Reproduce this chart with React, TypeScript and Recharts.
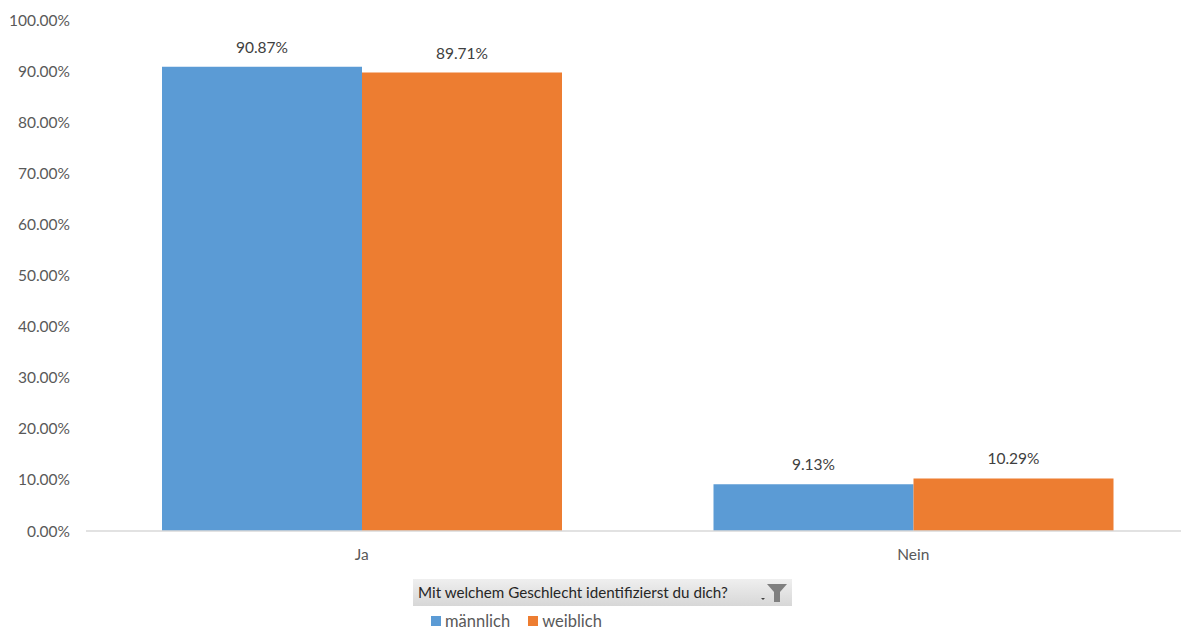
import React from 'react';
import { BarChart, Bar, XAxis, YAxis, LabelList, Legend } from 'recharts';

const categories = ['Ja', 'Nein'];
const maennlich = [90.87, 9.13];
const weiblich = [89.71, 10.29];
const yTicks = [0, 10, 20, 30, 40, 50, 60, 70, 80, 90, 100];

const legendTitle = 'Mit welchem Geschlecht identifizierst du dich?';

const BLUE = '#5B9BD5';
const ORANGE = '#ED7D31';
const FONT = 'Lato, "Noto Sans", sans-serif';

const data = categories.map((name, i) => ({
  name,
  maennlich: maennlich[i],
  weiblich: weiblich[i],
}));

const pct = (v: number) => `${Number(v).toFixed(2)}%`;

const renderLegend = () => (
  <div style={{ position: 'relative', width: 1181, height: 64, fontFamily: FONT }}>
    <div
      style={{
        position: 'absolute',
        left: 413,
        top: 8,
        width: 379,
        height: 27,
        background: 'linear-gradient(#efefef, #d7d7d7)',
        boxSizing: 'border-box',
      }}
    >
      <span
        style={{
          position: 'absolute',
          left: 5,
          top: 4,
          fontSize: 15.2,
          color: '#262626',
          whiteSpace: 'nowrap',
        }}
      >
        {legendTitle}
      </span>
      <svg width={30} height={27} style={{ position: 'absolute', left: 348, top: 0 }}>
        <path d="M0 19 L4 19 L2 21 Z" fill="#404040" />
        <path d="M6 5 L26 5 L19 13 L19 23 L13 23 L13 13 Z" fill="#7f7f7f" />
      </svg>
    </div>
    <div
      style={{
        position: 'absolute',
        left: 431,
        top: 40,
        display: 'flex',
        alignItems: 'center',
        fontSize: 16.5,
        color: '#595959',
        whiteSpace: 'nowrap',
      }}
    >
      <span style={{ width: 10, height: 10, background: BLUE, display: 'inline-block', marginRight: 4 }} />
      <span style={{ marginRight: 18 }}>männlich</span>
      <span style={{ width: 10, height: 10, background: ORANGE, display: 'inline-block', marginRight: 4 }} />
      <span>weiblich</span>
    </div>
  </div>
);

export default function App() {
  return (
    <div
      style={{
        position: 'absolute',
        left: 0,
        top: 0,
        width: 1181,
        height: 635,
        overflow: 'hidden',
        background: '#fff',
      }}
    >
      <BarChart
        width={1189}
        height={635}
        data={data}
        margin={{ top: 20, right: 0, left: 0, bottom: 0 }}
        barCategoryGap={76}
        barGap={0}
      >
        <XAxis
          dataKey="name"
          height={40}
          axisLine={{ stroke: '#d9d9d9', strokeWidth: 1.5 }}
          tickLine={false}
          tickSize={0}
          tickMargin={18}
          tick={{ fill: '#595959', fontSize: 15.5, fontFamily: FONT }}
        />
        <YAxis
          width={86}
          domain={[0, 100]}
          ticks={yTicks}
          axisLine={false}
          tickLine={false}
          tickSize={0}
          tickMargin={16}
          tickFormatter={pct}
          tick={{ fill: '#595959', fontSize: 15.5, fontFamily: FONT }}
        />
        <Legend
          verticalAlign="bottom"
          content={renderLegend}
          wrapperStyle={{ left: 0, bottom: 0, width: 1181 }}
        />
        <Bar dataKey="maennlich" name="männlich" fill={BLUE} isAnimationActive={false}>
          <LabelList
            dataKey="maennlich"
            position="top"
            offset={14}
            formatter={pct}
            style={{ fill: '#404040', fontSize: 15.5, fontFamily: FONT }}
          />
        </Bar>
        <Bar dataKey="weiblich" name="weiblich" fill={ORANGE} isAnimationActive={false}>
          <LabelList
            dataKey="weiblich"
            position="top"
            offset={14}
            formatter={pct}
            style={{ fill: '#404040', fontSize: 15.5, fontFamily: FONT }}
          />
        </Bar>
      </BarChart>
    </div>
  );
}
